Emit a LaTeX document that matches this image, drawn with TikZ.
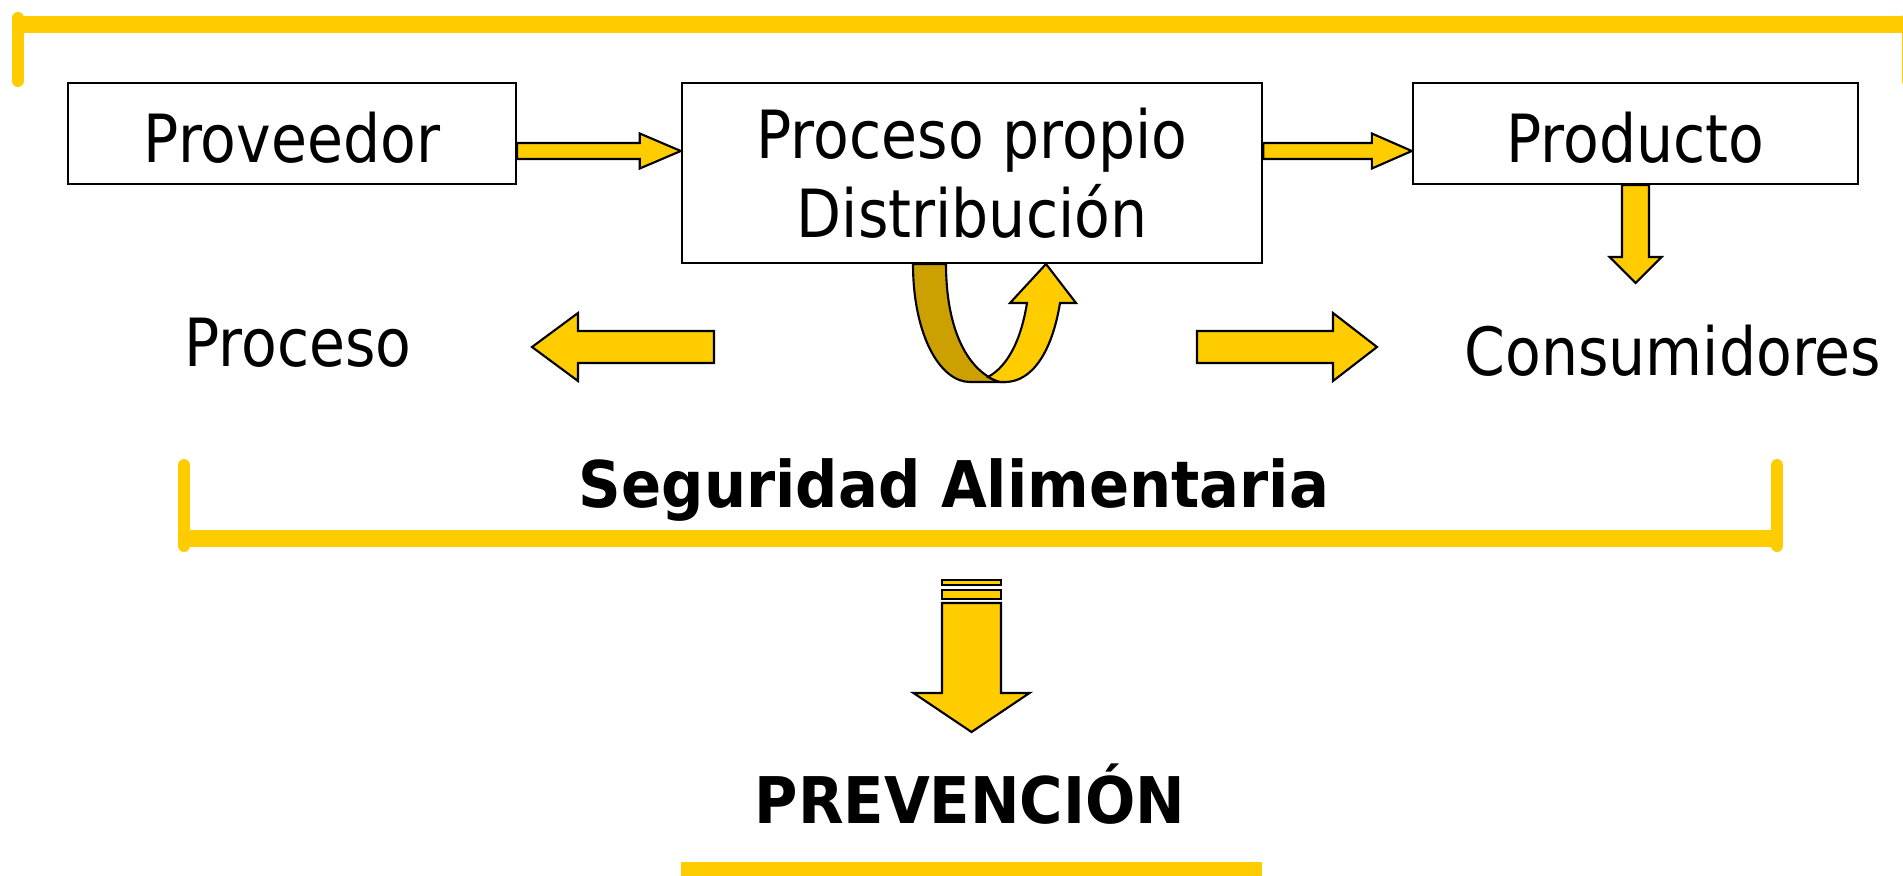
\documentclass[tikz,border=0pt]{standalone}
\usepackage{fontspec}
\setmainfont{DejaVu Sans}[FakeStretch=0.88]
\newfontfamily\titlefont{DejaVu Sans}[FakeStretch=0.92]
\usetikzlibrary{calc,positioning}

\definecolor{gold}{RGB}{255,204,0}
\definecolor{darkgold}{RGB}{204,160,0}

\tikzset{
  box/.style={draw=black, line width=0.6pt, fill=white, inner sep=0pt,
    font=\fontsize{18.9}{22.5}\selectfont},
  plaintext/.style={inner sep=0pt, anchor=base, font=\fontsize{18.9}{22.5}\selectfont},
  headtext/.style={inner sep=0pt, anchor=base, font=\titlefont\bfseries\fontsize{18.3}{22}\selectfont},
  fatarr/.style={draw=black, line width=0.6pt, fill=gold, line join=miter},
  goldline/.style={draw=gold, line width=0.17cm},
  goldpost/.style={draw=gold, line width=0.12cm, line cap=round}
}

% block arrow: [style]{tail}{tip}{shaft half width}{head half width}{head length}
\newcommand\fatarrow[6][]{%
  \filldraw[fatarr,#1] let \p1=(#2), \p2=(#3),
    \n1={atan2(\y2-\y1,\x2-\x1)}, \n2={veclen(\x2-\x1,\y2-\y1)} in
    [shift={(\p1)}, rotate=\n1]
    (0pt,#4) -- (\n2-#6,#4) -- (\n2-#6,#5) -- (\n2,0pt)
    -- (\n2-#6,-#5) -- (\n2-#6,-#4) -- (0pt,-#4) -- cycle;}

\begin{document}
\begin{tikzpicture}[x=0.01cm, y=-0.01cm]
  \useasboundingbox (0,0) rectangle (1903,876);

  % yellow frame on top
  \draw[goldline] (12,24.5) -- (1920,24.5);
  \draw[goldpost] (18,18) -- (18,81);
  \draw[goldpost] (1908,18) -- (1908,81);

  % the three boxes
  \node[box, minimum width=4.48cm, minimum height=1.01cm, text height=0.57cm, text depth=0pt] (prov) at (292,133.5) {Proveedor};
  \node[box, minimum width=5.80cm, minimum height=1.80cm, align=center] (proc) at (972,173) {Proceso propio\\Distribución};
  \node[box, minimum width=4.45cm, minimum height=1.01cm, text height=0.57cm, text depth=0pt] (prod) at (1635.5,133.5) {Producto};

  \node[plaintext] (proceso) at (298,366) {Proceso};
  \node[plaintext] (consum) at (1673,375) {Consumidores};

  \coordinate (mid) at (0,151);
  \coordinate (consin) at (1635.5,283);
  \coordinate (lefttail) at (714,347);
  \coordinate (lefttip) at (532,347);
  \coordinate (righttail) at (1197,347);
  \coordinate (righttip) at (1377,347);

  \fatarrow{prov.east |- mid}{proc.west |- mid}{0.08cm}{0.175cm}{0.41cm}
  \fatarrow{proc.east |- mid}{prod.west |- mid}{0.08cm}{0.175cm}{0.40cm}
  \fatarrow{prod.south}{consin}{0.135cm}{0.26cm}{0.26cm}
  \fatarrow{lefttail}{lefttip}{0.16cm}{0.34cm}{0.46cm}
  \fatarrow{righttail}{righttip}{0.16cm}{0.34cm}{0.44cm}

  % u-turn arrow under the middle box
  \filldraw[fatarr, fill=darkgold] (913,264) .. controls (913,335) and (940,382) .. (970,382)
    -- (1000,382) .. controls (968,372) and (946,330) .. (946,264) -- cycle;
  \filldraw[fatarr] (988,377) .. controls (1008,366) and (1021,340) .. (1027,303)
    -- (1010,303) -- (1046,264) -- (1076,303) -- (1060,303)
    .. controls (1052,352) and (1032,382) .. (1005,382) -- (1000,382)
    .. controls (996,381) and (992,379) .. (988,377) -- cycle;

  % bracket
  \node[headtext] (seguridad) at (954,507) {Seguridad Alimentaria};
  \draw[goldline] (184,538.5) -- (1777,538.5);
  \draw[goldpost] (184,465) -- (184,546);
  \draw[goldpost] (1777,465) -- (1777,546);

  % down arrow
  \coordinate (downtail) at (971.5,603);
  \coordinate (downtip) at (971.5,732);
  \filldraw[fatarr] (942,580) rectangle (1001,585);
  \filldraw[fatarr] (942,590) rectangle (1001,599);
  \fatarrow{downtail}{downtip}{0.295cm}{0.58cm}{0.39cm}

  \node[headtext] (prevencion) at (970,823) {PREVENCIÓN};
  \draw[goldline] (681,870.5) -- (1262,870.5);
\end{tikzpicture}
\end{document}
